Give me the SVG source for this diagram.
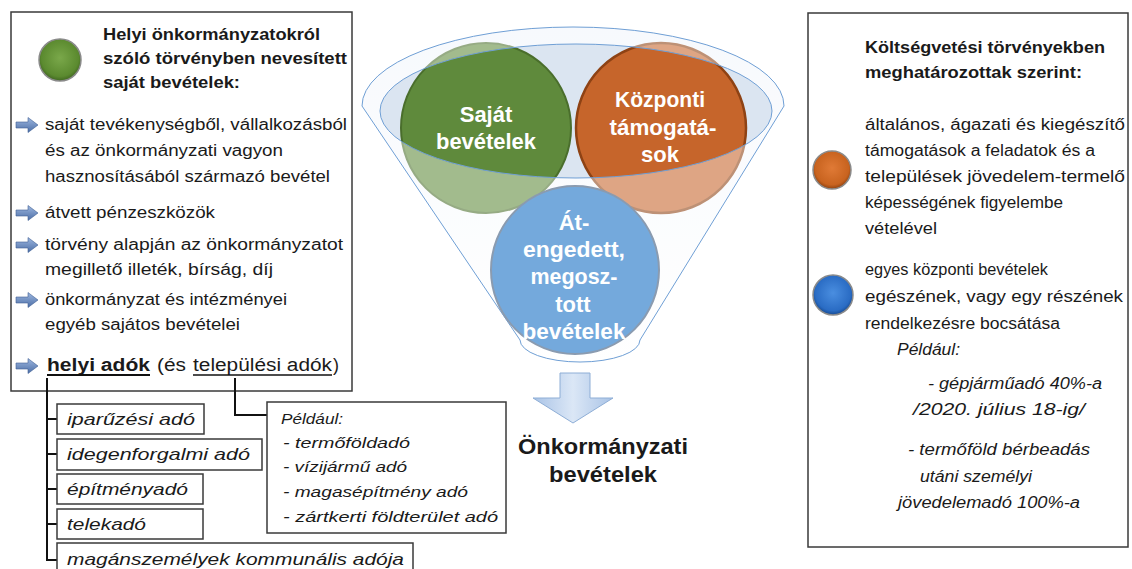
<svg xmlns="http://www.w3.org/2000/svg" width="1132" height="569" viewBox="0 0 1132 569">
<style>
.t{font-family:"Liberation Sans",Arial,sans-serif;font-size:16px;fill:#1a1a1a}
.b{font-weight:bold}
.i{font-style:italic}
.box{fill:#fff;stroke:#3a3a3a;stroke-width:1.5}
.con{fill:none;stroke:#111;stroke-width:2}
.fl{fill:none;stroke:#6f9fd5;stroke-width:1}
.ct{font-family:"Liberation Sans",Arial,sans-serif;font-size:22px;font-weight:bold;fill:#fff;text-anchor:middle}
</style>
<defs>
<radialGradient id="gG" cx="50%" cy="45%" r="55%"><stop offset="0" stop-color="#7aa84a"/><stop offset="0.8" stop-color="#5b8a2f"/><stop offset="1" stop-color="#3f6620"/></radialGradient>
<radialGradient id="gO" cx="50%" cy="45%" r="55%"><stop offset="0" stop-color="#e07a36"/><stop offset="0.8" stop-color="#c8631f"/><stop offset="1" stop-color="#8f4210"/></radialGradient>
<radialGradient id="gB" cx="50%" cy="45%" r="55%"><stop offset="0" stop-color="#4a8ee0"/><stop offset="0.8" stop-color="#2a6cc4"/><stop offset="1" stop-color="#174a90"/></radialGradient>
<linearGradient id="arr" x1="0" y1="0" x2="0" y2="1"><stop offset="0" stop-color="#9db7e0"/><stop offset="1" stop-color="#4c6ea6"/></linearGradient>
<linearGradient id="down" x1="0" y1="0" x2="1" y2="0"><stop offset="0" stop-color="#a9c3e6"/><stop offset="0.5" stop-color="#dbe7f6"/><stop offset="1" stop-color="#a9c3e6"/></linearGradient>
<linearGradient id="fun" x1="0" y1="0" x2="0" y2="1"><stop offset="0" stop-color="#f1f5fb"/><stop offset="1" stop-color="#ffffff"/></linearGradient>
<path id="bul" d="M-11,-3 h12 v-4.5 l10,7.5 l-10,7.5 v-4.5 h-12 z" fill="url(#arr)" stroke="#3f5f93" stroke-width="0.6"/>
</defs>
<rect width="1132" height="569" fill="#fff"/>

<g id="left-box">
<rect class="box" x="11" y="12" width="341" height="379"/>
<circle cx="60" cy="60" r="21" fill="url(#gG)" stroke="#8a8a8a" stroke-width="1.5"/>
<text class="t b" x="103" y="40" textLength="217" lengthAdjust="spacingAndGlyphs">Helyi önkormányzatokról</text>
<text class="t b" x="103" y="64" textLength="244" lengthAdjust="spacingAndGlyphs">szóló törvényben nevesített</text>
<text class="t b" x="103" y="88" textLength="137" lengthAdjust="spacingAndGlyphs">saját bevételek:</text>
<use href="#bul" x="27" y="125"/>
<text class="t" x="45" y="130" textLength="302" lengthAdjust="spacingAndGlyphs">saját tevékenységből, vállalkozásból</text>
<text class="t" x="45" y="156" textLength="238" lengthAdjust="spacingAndGlyphs">és az önkormányzati vagyon</text>
<text class="t" x="45" y="182" textLength="285" lengthAdjust="spacingAndGlyphs">hasznosításából származó bevétel</text>
<use href="#bul" x="27" y="213"/>
<text class="t" x="45" y="218" textLength="170" lengthAdjust="spacingAndGlyphs">átvett pénzeszközök</text>
<use href="#bul" x="27" y="245"/>
<text class="t" x="45" y="250" textLength="298" lengthAdjust="spacingAndGlyphs">törvény alapján az önkormányzatot</text>
<text class="t" x="45" y="275" textLength="228" lengthAdjust="spacingAndGlyphs">megillető illeték, bírság, díj</text>
<use href="#bul" x="27" y="300"/>
<text class="t" x="45" y="305" textLength="242" lengthAdjust="spacingAndGlyphs">önkormányzat és intézményei</text>
<text class="t" x="45" y="330" textLength="195" lengthAdjust="spacingAndGlyphs">egyéb sajátos bevételei</text>
<use href="#bul" x="27" y="366"/>
<text class="t b" x="47" y="371" style="font-size:18px" textLength="103" lengthAdjust="spacingAndGlyphs">helyi adók</text>
<text class="t" x="157" y="371" style="font-size:18px" textLength="29" lengthAdjust="spacingAndGlyphs">(és</text>
<text class="t" x="193" y="371" style="font-size:18px" textLength="139" lengthAdjust="spacingAndGlyphs">települési adók</text>
<text class="t" x="333" y="371" style="font-size:18px">)</text>
<line x1="47" y1="375" x2="150" y2="375" stroke="#111" stroke-width="2"/>
<line x1="193" y1="375" x2="332" y2="375" stroke="#111" stroke-width="1.4"/>
</g>

<g id="connectors">
<path class="con" d="M47,378 V560 H57 M47,419 H57 M47,454 H57 M47,489 H57 M47,524 H57"/>
<path class="con" d="M235,378 V415 H267"/>
</g>

<g id="tax-iparuzesi">
<rect class="box" x="57" y="404" width="147" height="30"/>
<text class="t i" x="67" y="425" style="font-size:17px" textLength="128" lengthAdjust="spacingAndGlyphs">iparűzési adó</text>
</g>
<g id="tax-idegenforgalmi">
<rect class="box" x="57" y="439" width="205" height="31"/>
<text class="t i" x="67" y="460" style="font-size:17px" textLength="183" lengthAdjust="spacingAndGlyphs">idegenforgalmi adó</text>
</g>
<g id="tax-epitmeny">
<rect class="box" x="57" y="474" width="146" height="30"/>
<text class="t i" x="67" y="495" style="font-size:17px" textLength="121" lengthAdjust="spacingAndGlyphs">építményadó</text>
</g>
<g id="tax-telek">
<rect class="box" x="57" y="509" width="146" height="30"/>
<text class="t i" x="67" y="530" style="font-size:17px" textLength="79" lengthAdjust="spacingAndGlyphs">telekadó</text>
</g>
<g id="tax-kommunalis">
<rect class="box" x="57" y="543" width="356" height="32"/>
<text class="t i" x="67" y="565" style="font-size:17px" textLength="337" lengthAdjust="spacingAndGlyphs">magánszemélyek kommunális adója</text>
</g>

<g id="peldaul-box">
<rect class="box" x="267" y="402" width="239" height="131"/>
<text class="t i" x="281" y="424" style="font-size:15.5px" textLength="62" lengthAdjust="spacingAndGlyphs">Például:</text>
<text class="t i" x="283" y="448" style="font-size:15.5px" textLength="127" lengthAdjust="spacingAndGlyphs">- termőföldadó</text>
<text class="t i" x="283" y="472" style="font-size:15.5px" textLength="124" lengthAdjust="spacingAndGlyphs">- vízijármű adó</text>
<text class="t i" x="283" y="497" style="font-size:15.5px" textLength="185" lengthAdjust="spacingAndGlyphs">- magasépítmény adó</text>
<text class="t i" x="283" y="522" style="font-size:15.5px" textLength="215" lengthAdjust="spacingAndGlyphs">- zártkerti földterület adó</text>
</g>

<g id="funnel">
<path d="M362,106 A211,79 0 0 1 784,106 L640,340 A60,22 0 0 1 520,340 Z" fill="url(#fun)"/>
<ellipse cx="576" cy="111" rx="196" ry="67" fill="#dbe5f1"/>
</g>

<g id="node-sajat">
<circle cx="486" cy="128" r="85" fill="#5f8a3c" stroke="#4a6e2c" stroke-width="2"/>
</g>
<g id="node-kozponti">
<circle cx="661" cy="128" r="85" fill="#c6652b" stroke="#8e4214" stroke-width="2.5"/>
</g>

<g id="funnel-front">
<path d="M362,106 A211,79 0 0 1 784,106 L640,340 A60,22 0 0 1 520,340 Z M380,111 A196,67 0 1 0 772,111 A196,67 0 1 0 380,111 Z" fill="#fff" fill-opacity="0.42" fill-rule="evenodd"/>
<path class="fl" d="M362,106 A211,79 0 0 1 784,106 M362,106 L520,340 M784,106 L640,340 M640,340 A60,22 0 0 1 520,340"/>
<ellipse class="fl" cx="576" cy="111" rx="196" ry="67"/>
<text class="ct" x="486" y="122">Saját</text>
<text class="ct" x="486" y="149" textLength="100" lengthAdjust="spacingAndGlyphs">bevételek</text>
<text class="ct" x="660" y="107" textLength="90" lengthAdjust="spacingAndGlyphs">Központi</text>
<text class="ct" x="663" y="135" textLength="107" lengthAdjust="spacingAndGlyphs">támogatá-</text>
<text class="ct" x="660" y="162">sok</text>
</g>

<g id="node-atengedett">
<circle cx="575" cy="270" r="84" fill="#74a9dc" stroke="#8a9bb0" stroke-width="2"/>
<text class="ct" x="574" y="230">Át-</text>
<text class="ct" x="574" y="257" textLength="102" lengthAdjust="spacingAndGlyphs">engedett,</text>
<text class="ct" x="574" y="284" textLength="87" lengthAdjust="spacingAndGlyphs">megosz-</text>
<text class="ct" x="573" y="312">tott</text>
<text class="ct" x="574" y="339" textLength="103" lengthAdjust="spacingAndGlyphs">bevételek</text>
</g>

<g id="result">
<path d="M560,373 H590 V398 H613 L573,423 L533,398 H560 Z" fill="url(#down)" stroke="#8eaed6" stroke-width="1"/>
<text class="t b" x="603" y="454" style="font-size:22px" text-anchor="middle" textLength="170" lengthAdjust="spacingAndGlyphs">Önkormányzati</text>
<text class="t b" x="603" y="482" style="font-size:22px" text-anchor="middle" textLength="108" lengthAdjust="spacingAndGlyphs">bevételek</text>
</g>

<g id="right-box">
<rect class="box" x="808" y="13" width="320" height="534"/>
<text class="t b" x="865" y="53" textLength="240" lengthAdjust="spacingAndGlyphs">Költségvetési törvényekben</text>
<text class="t b" x="865" y="78" textLength="217" lengthAdjust="spacingAndGlyphs">meghatározottak szerint:</text>
<circle cx="832" cy="170" r="19" fill="url(#gO)" stroke="#8a8a8a" stroke-width="1.5"/>
<text class="t" x="865" y="130" textLength="260" lengthAdjust="spacingAndGlyphs">általános, ágazati és kiegészítő</text>
<text class="t" x="865" y="156" textLength="230" lengthAdjust="spacingAndGlyphs">támogatások a feladatok és a</text>
<text class="t" x="865" y="182" textLength="260" lengthAdjust="spacingAndGlyphs">települések jövedelem-termelő</text>
<text class="t" x="865" y="208" textLength="198" lengthAdjust="spacingAndGlyphs">képességének figyelembe</text>
<text class="t" x="865" y="234" textLength="72" lengthAdjust="spacingAndGlyphs">vételével</text>
<circle cx="833" cy="295" r="20" fill="url(#gB)" stroke="#8a8a8a" stroke-width="1.5"/>
<text class="t" x="865" y="275" textLength="183" lengthAdjust="spacingAndGlyphs">egyes központi bevételek</text>
<text class="t" x="865" y="302" textLength="258" lengthAdjust="spacingAndGlyphs">egészének, vagy egy részének</text>
<text class="t" x="865" y="329" textLength="195" lengthAdjust="spacingAndGlyphs">rendelkezésre bocsátása</text>
<text class="t i" x="897" y="355" textLength="63" lengthAdjust="spacingAndGlyphs">Például:</text>
<text class="t i" x="928" y="389" textLength="174" lengthAdjust="spacingAndGlyphs">- gépjárműadó 40%-a</text>
<text class="t i" x="913" y="415" textLength="172" lengthAdjust="spacingAndGlyphs">/2020. július 18-ig/</text>
<text class="t i" x="908" y="455" textLength="182" lengthAdjust="spacingAndGlyphs">- termőföld bérbeadás</text>
<text class="t i" x="920" y="482" textLength="112" lengthAdjust="spacingAndGlyphs">utáni személyi</text>
<text class="t i" x="898" y="508" textLength="182" lengthAdjust="spacingAndGlyphs">jövedelemadó 100%-a</text>
</g>
</svg>
